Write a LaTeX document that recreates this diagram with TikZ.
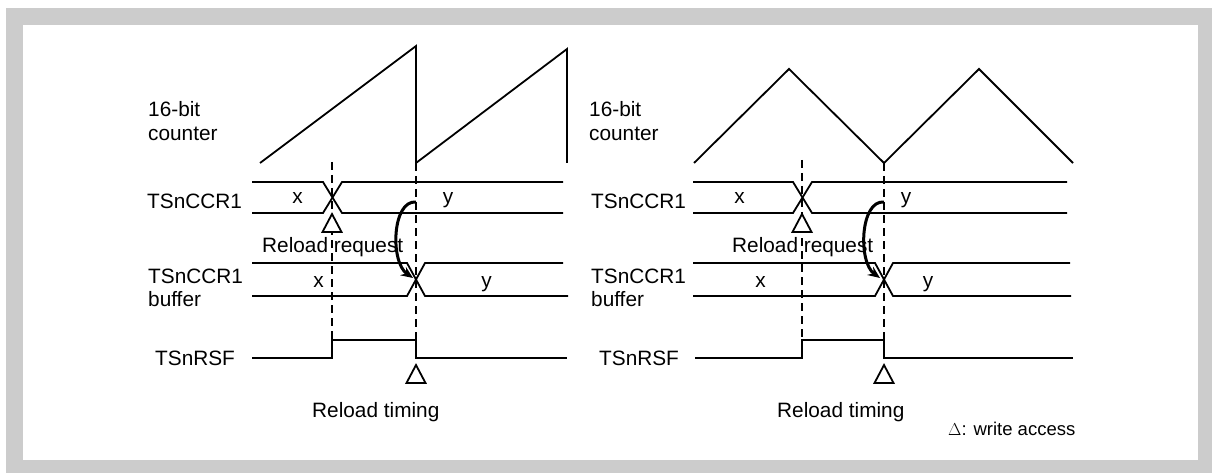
\documentclass[tikz,border=0pt]{standalone}
\usepackage{fontspec}
\setmainfont{Liberation Sans}
\usetikzlibrary{arrows.meta}
\begin{document}
\begin{tikzpicture}[x=1pt,y=-1pt,
  wave/.style={line width=1.8pt},
  guide/.style={line width=2.6pt,dash pattern=on 8pt off 5pt},
  trig/.style={line width=1.8pt,fill=white,line join=miter},
  flow/.style={line width=3pt,-{Stealth[length=12pt,width=10pt]}},
  lbl/.style={inner sep=0pt,anchor=base west,font=\fontsize{20.8}{24}\selectfont},
  val/.style={inner sep=0pt,anchor=base,font=\fontsize{20.8}{24}\selectfont},
  note/.style={inner sep=0pt,anchor=base west,font=\fontsize{18.5}{22}\selectfont}]
\useasboundingbox (0,0) rectangle (1212,473);
% frame
\fill[fill={rgb,255:red,204;green,204;blue,204}] (6,8) rectangle (1212,473);
\fill[white] (23,25) rectangle (1198,460);

% ---------- left diagram ----------
\node[lbl] (l16) at (148,117) {16-bit};
\node[lbl] (lcnt) at (148,141) {counter};
\node[lbl] (lccr) at (147,208) {TSnCCR1};
\node[lbl] (lbuf1) at (148,283) {TSnCCR1};
\node[lbl] (lbuf2) at (148,306) {buffer};
\node[lbl] (lrsf) at (155,365) {TSnRSF};

\draw[wave] (260,163) -- (416,46) -- (416,163) -- (567,49) -- (567,163);
\draw[wave] (252,182) -- (323,182) -- (342,213) -- (563,213);
\draw[wave] (252,213) -- (323,213) -- (342,182) -- (563,182);
\draw[wave] (252,263) -- (407,263) -- (425,296) -- (568,296);
\draw[wave] (252,296) -- (407,296) -- (425,263) -- (563,263);
\draw[wave] (252,358) -- (332,358) -- (332,340) -- (416,340) -- (416,358) -- (567,358);

\coordinate (la1) at (332,162); \coordinate (la2) at (332,340);
\coordinate (lb1) at (416,163); \coordinate (lb2) at (416,340);
\draw[guide] (la1) -- (la2);
\draw[guide] (lb1) -- (lb2);

\draw[trig] (332,214) -- (341.5,232) -- (322.5,232) -- cycle;
\draw[trig] (416,365) -- (425.5,383) -- (406.5,383) -- cycle;

\coordinate (lfs) at (416,202); \coordinate (lft) at (413,278);
\draw[flow] (lfs) .. controls (392,200) and (390,262) .. (lft);

\node[val] (lx1) at (297.5,204) {x};
\node[val] (ly1) at (448,204) {y};
\node[val] (lx2) at (318.5,287) {x};
\node[val] (ly2) at (486.5,287) {y};
\node[lbl] (lreq) at (262,252) {Reload request};
\node[lbl] (ltim) at (312,417) {Reload timing};

% ---------- right diagram ----------
\node[lbl] (r16) at (589,117) {16-bit};
\node[lbl] (rcnt) at (589,141) {counter};
\node[lbl] (rccr) at (591,208) {TSnCCR1};
\node[lbl] (rbuf1) at (591,283) {TSnCCR1};
\node[lbl] (rbuf2) at (591,306) {buffer};
\node[lbl] (rrsf) at (599,365) {TSnRSF};

\draw[wave] (694,163) -- (789,69) -- (884,163) -- (979,69) -- (1073,163);
\draw[wave] (693,182) -- (793,182) -- (812,213) -- (1067,213);
\draw[wave] (693,213) -- (793,213) -- (812,182) -- (1067,182);
\draw[wave] (693,263) -- (875,263) -- (893,296) -- (1071,296);
\draw[wave] (693,296) -- (875,296) -- (893,263) -- (1070,263);
\draw[wave] (695,358) -- (802,358) -- (802,340) -- (884,340) -- (884,358) -- (1073,358);

\coordinate (ra1) at (802,160); \coordinate (ra2) at (802,340);
\coordinate (rb1) at (884,163); \coordinate (rb2) at (884,340);
\draw[guide] (ra1) -- (ra2);
\draw[guide] (rb1) -- (rb2);

\draw[trig] (802,214) -- (811.5,232) -- (792.5,232) -- cycle;
\draw[trig] (884,365) -- (893.5,383) -- (874.5,383) -- cycle;

\coordinate (rfs) at (884,202); \coordinate (rft) at (880,278);
\draw[flow] (rfs) .. controls (860,200) and (858,262) .. (rft);

\node[val] (rx1) at (739.5,204) {x};
\node[val] (ry1) at (906,204) {y};
\node[val] (rx2) at (760.5,287) {x};
\node[val] (ry2) at (928,287) {y};
\node[lbl] (rreq) at (732,252) {Reload request};
\node[lbl] (rtim) at (777,417) {Reload timing};

\node[note] (leg) at (948,435) {$\Delta$: write access};
\end{tikzpicture}
\end{document}
